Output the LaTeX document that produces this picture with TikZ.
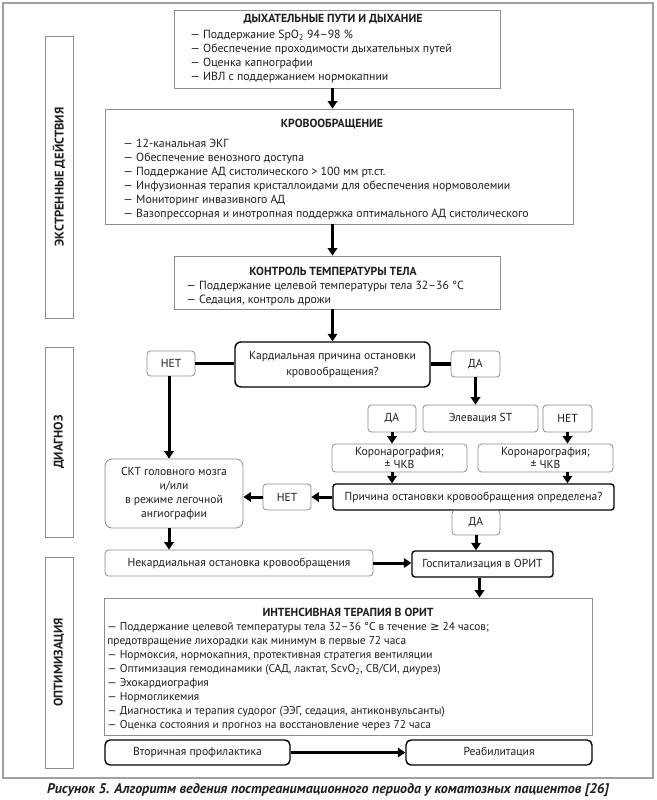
\documentclass[tikz,border=0pt]{standalone}
\usepackage{fontspec}
\setmainfont{PT Sans}
\newfontfamily\symfont{DejaVu Sans}
\usetikzlibrary{arrows.meta}

\definecolor{boxgray}{HTML}{8C8C8C}
\definecolor{framegray}{HTML}{A0A0A0}
\definecolor{inkc}{HTML}{1E1E1E}

\tikzset{every picture/.style={line width=0.75pt}}
\tikzset{
  plainbox/.style={draw=boxgray, line width=0.8pt, inner sep=0pt, text=inkc, font=\fontsize{11.6}{14}\selectfont},
  softbox/.style={plainbox, rounded corners=3.5pt},
  keybox/.style={draw=black, line width=1.4pt, rounded corners=4pt, inner sep=0pt, text=inkc, font=\fontsize{11.6}{14}\selectfont},
  sidebox/.style={plainbox, rotate=90, font=\fontsize{12.5}{14}\selectfont\bfseries},
  txt/.style={inner sep=0pt, text=inkc, font=\fontsize{11.8}{14}\selectfont, align=left},
  head/.style={inner sep=0pt, text=inkc, font=\fontsize{11.7}{14}\selectfont\bfseries},
  flow/.style={line width=3pt, -{Triangle[length=7.5pt,width=9.5pt]}},
  bar/.style={line width=3.5pt},
}
\newcommand{\atleast}{{\symfont ≥}}

\begin{document}
\begin{tikzpicture}[x=1pt,y=1pt,yscale=-1,xscale=1]
\useasboundingbox (0,0) rectangle (656,800);

%Shape: Rectangle [outer frame]
\draw [framegray, line width=1.2pt] (3,3) rectangle (653,778) ;

%Side labels
\node [sidebox, minimum width=282pt, minimum height=28pt] (emerg) at (59,177) {ЭКСТРЕННЫЕ ДЕЙСТВИЯ};
\node [sidebox, minimum width=190pt, minimum height=28pt] (diag) at (59,442) {ДИАГНОЗ};
\node [sidebox, minimum width=211pt, minimum height=28pt] (optim) at (59,662.5) {ОПТИМИЗАЦИЯ};

%Shape: Rectangle [airway]
\node [plainbox, minimum width=326pt, minimum height=78pt] (airway) at (337,49) {};
% Text Node
\node [head] (airwayhd) at (333,19) {ДЫХАТЕЛЬНЫЕ ПУТИ И ДЫХАНИЕ};
% Text Node
\node [txt, anchor=north west] (airwaytx) at (190,30) {— Поддержание SpO\textsubscript{2} 94–98 \%\\— Обеспечение проходимости дыхательных путей\\— Оценка капнографии\\— ИВЛ с поддержанием нормокапнии};

%Shape: Rectangle [circulation]
\node [plainbox, minimum width=468pt, minimum height=115pt] (circ) at (339,166.5) {};
% Text Node
\node [head] (circhd) at (332,124) {КРОВООБРАЩЕНИЕ};
% Text Node
\node [txt, anchor=north west] (circtx) at (123,139) {— 12-канальная ЭКГ\\— Обеспечение венозного доступа\\— Поддержание АД систолического > 100 мм рт.ст.\\— Инфузионная терапия кристаллоидами для обеспечения нормоволемии\\— Мониторинг инвазивного АД\\— Вазопрессорная и инотропная поддержка оптимального АД систолического};

%Shape: Rectangle [temperature]
\node [plainbox, minimum width=326pt, minimum height=53pt] (temp) at (337,282.5) {};
% Text Node
\node [head] (temphd) at (333,271) {КОНТРОЛЬ ТЕМПЕРАТУРЫ ТЕЛА};
% Text Node
\node [txt, anchor=north west] (temptx) at (186,281) {— Поддержание целевой температуры тела 32–36 °C\\— Седация, контроль дрожи};

%Diagnosis block
\node [keybox, rounded corners=6pt, minimum width=195pt, minimum height=45pt, align=center, font=\fontsize{11.6}{16}\selectfont] (cardq) at (332.5,364.5) {Кардиальная причина остановки\\кровообращения?};
\node [softbox, minimum width=48pt, minimum height=25pt] (no1) at (171,363.5) {НЕТ};
\node [softbox, minimum width=49pt, minimum height=26pt] (yes1) at (475.5,364) {ДА};
\node [softbox, minimum width=115pt, minimum height=27pt] (ste) at (480.5,418.5) {Элевация ST};
\node [softbox, minimum width=48pt, minimum height=27pt] (yes2) at (392,418.5) {ДА};
\node [softbox, minimum width=49pt, minimum height=27pt] (no2) at (567.5,418.5) {НЕТ};
\node [softbox, minimum width=135pt, minimum height=28pt, align=center, font=\fontsize{11.6}{13}\selectfont] (cor1) at (399.5,458) {Коронарография;\\± ЧКВ};
\node [softbox, minimum width=135pt, minimum height=28pt, align=center, font=\fontsize{11.6}{13}\selectfont] (cor2) at (545.5,458) {Коронарография;\\± ЧКВ};
\node [keybox, rounded corners=3pt, minimum width=281pt, minimum height=26pt] (cause) at (473.5,497) {Причина остановки кровообращения определена?};
\node [softbox, minimum width=48pt, minimum height=26pt] (no3) at (287,497) {НЕТ};
\node [softbox, minimum width=48pt, minimum height=25pt] (yes3) at (476,522.5) {ДА};
\node [softbox, rounded corners=7pt, minimum width=138pt, minimum height=69pt, align=center, font=\fontsize{11.6}{13.7}\selectfont] (ct) at (174,493.5) {СКТ головного мозга\\и/или\\в режиме легочной\\ангиографии};
\node [softbox, minimum width=268pt, minimum height=26pt] (noncard) at (239,563) {Некардиальная остановка кровообращения};
\node [keybox, rounded corners=3pt, minimum width=141pt, minimum height=26pt] (icu) at (482.5,564) {Госпитализация в ОРИТ};

%Shape: Rectangle [intensive care]
\node [plainbox, minimum width=488pt, minimum height=137pt] (intens) at (348,666.5) {};
% Text Node
\node [head] (intenshd) at (348,612) {ИНТЕНСИВНАЯ ТЕРАПИЯ В ОРИТ};
% Text Node
\node [txt, anchor=north west, font=\fontsize{11.4}{14}\selectfont] (intenstx) at (107,622) {— Поддержание целевой температуры тела 32–36 °C в течение \atleast{} 24 часов;\\предотвращение лихорадки как минимум в первые 72 часа\\— Нормоксия, нормокапния, протективная стратегия вентиляции\\— Оптимизация гемодинамики (САД, лактат, ScvO\textsubscript{2}, СВ/СИ, диурез)\\— Эхокардиография\\— Нормогликемия\\— Диагностика и терапия судорог (ЭЭГ, седация, антиконвульсанты)\\— Оценка состояния и прогноз на восстановление через 72 часа};

\node [keybox, rounded corners=5pt, minimum width=185pt, minimum height=25pt] (sec) at (197.5,752.5) {Вторичная профилактика};
\node [keybox, rounded corners=5pt, minimum width=186pt, minimum height=25pt] (rehab) at (499,752.5) {Реабилитация};

%Straight Lines
\draw [flow] (airway.south -| cardq.north) -- (cardq.north |- circ.north) ;
\draw [flow] (circ.south -| cardq.north) -- (cardq.north |- temp.north) ;
\draw [flow] (temp.south -| cardq.north) -- (cardq.north) ;
\draw [bar] (no1.east) -- (cardq.west |- no1.east) ;
\draw [bar] (cardq.east |- yes1.west) -- (yes1.west) ;
\draw [flow] (yes1.south) -- (yes1.south |- ste.north) ;
\draw [flow] (yes2.south) -- (yes2.south |- cor1.north) ;
\draw [flow] (no2.south) -- (no2.south |- cor2.north) ;
\draw [flow] (cor1.south -| yes2.south) -- (yes2.south |- cause.north) ;
\draw [flow] (cor2.south -| no2.south) -- (no2.south |- cause.north) ;
\draw [flow] (cause.west) -- (no3.east) ;
\draw [flow] (no3.west) -- (ct.east |- no3.west) ;
\draw [flow] ([xshift=-2pt]no1.south) -- ([xshift=-2pt]no1.south |- ct.north) ;
\draw [flow] ([xshift=-2pt]no1.south |- ct.south) -- ([xshift=-2pt]no1.south |- noncard.north) ;
\draw [flow] (yes3.south) -- (yes3.south |- icu.north) ;
\draw [flow] (noncard.east) -- (icu.west |- noncard.east) ;
\draw [flow] ([xshift=-3pt]icu.south) -- ([xshift=-3pt]icu.south |- intens.north) ;
\draw [flow] (sec.east) -- (rehab.west) ;

% Text Node
\node [inner sep=0pt, text=inkc, font=\fontsize{14}{16}\selectfont\bfseries\itshape] (caption) at (328,790) {Рисунок 5. Алгоритм ведения постреанимационного периода у коматозных пациентов [26]};

\end{tikzpicture}
\end{document}
